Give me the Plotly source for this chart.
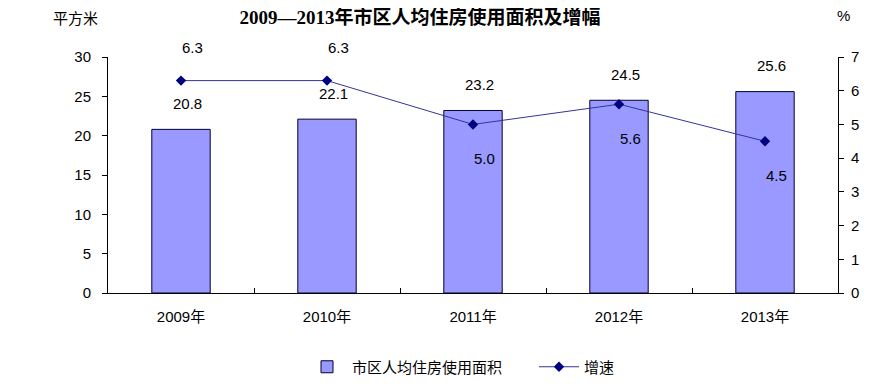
import plotly.graph_objects as go

years = ["2009年", "2010年", "2011年", "2012年", "2013年"]
area = [20.8, 22.1, 23.2, 24.5, 25.6]
growth = [6.3, 6.3, 5.0, 5.6, 4.5]
growth_label_above = [True, True, False, False, False]

FONT = "Arial, Liberation Sans, Noto Sans CJK SC"
CJK = "Noto Sans CJK SC"

# page body has an 8px margin; figure is sized/positioned to compensate
OFF = 8
W, H = 871 - OFF, 387 - OFF

fig = go.Figure()
fig.add_trace(go.Bar(
    x=years, y=area, name="市区人均住房使用面积", width=0.4,
    marker=dict(color="#9999FF", line=dict(color="#000033", width=1)),
    yaxis="y",
))
fig.add_trace(go.Scatter(
    x=years, y=growth, name="增速", mode="lines+markers",
    line=dict(color="#333399", width=1),
    marker=dict(symbol="diamond", size=8, color="#000080"),
    yaxis="y2",
))

annotations = []
for x, v in zip(years, area):
    annotations.append(dict(x=x, y=v, xref="x", yref="y", text=f"{v:.1f}",
                            showarrow=False, yshift=26, xshift=6, xanchor="center",
                            font=dict(size=15, color="#000", family=FONT)))
for x, v, above in zip(years, growth, growth_label_above):
    annotations.append(dict(x=x, y=v, xref="x", yref="y2", text=f"{v:.1f}",
                            showarrow=False, yshift=33 if above else -34, xshift=11,
                            xanchor="center",
                            font=dict(size=15, color="#000", family=FONT)))
annotations += [
    dict(x=-33 / 730, y=(293 - 17) / 236, xref="paper", yref="paper", text="平方米",
         showarrow=False, xanchor="center", yanchor="middle",
         font=dict(size=15, color="#000", family=CJK)),
    dict(x=(843 - 108) / 730, y=(293 - 15) / 236, xref="paper", yref="paper", text="%",
         showarrow=False, xanchor="center", yanchor="middle",
         font=dict(size=15, color="#000", family=FONT)),
]

fig.update_layout(
    width=W, height=H,
    margin=dict(l=108 - OFF, r=33, t=57 - OFF, b=94, autoexpand=False),
    paper_bgcolor="white", plot_bgcolor="white",
    font=dict(family=FONT, size=14, color="#000"),
    title=dict(text="<b>2009—2013年市区人均住房使用面积及增幅</b>",
               x=(420 - OFF) / W, xanchor="center", xref="container",
               y=1 - (17 - OFF) / H, yanchor="middle", yref="container",
               font=dict(size=19, family="Liberation Serif, " + CJK, color="#000")),
    showlegend=True,
    legend=dict(orientation="h", x=(302 - OFF) / W, y=20 / H, xref="container",
                yref="container", xanchor="left", yanchor="middle",
                font=dict(size=15, family=CJK), itemwidth=40,
                entrywidth=177, entrywidthmode="pixels"),
    annotations=annotations,
    xaxis=dict(showline=True, linecolor="#000", linewidth=1, ticks="inside", ticklen=5,
               tickson="boundaries", tickcolor="#000", showgrid=False,
               ticklabelstandoff=10, tickfont=dict(size=15, family=FONT)),
    yaxis=dict(range=[0, 30], dtick=5, showline=True, linecolor="#000", ticks="outside",
               ticklen=5, tickcolor="#000", showgrid=False, zeroline=False,
               ticklabelstandoff=8, tickfont=dict(size=15, family=FONT)),
    yaxis2=dict(range=[0, 7], dtick=1, overlaying="y", side="right", showline=True,
                linecolor="#000", ticks="outside", ticklen=5, tickcolor="#000",
                showgrid=False, zeroline=False, ticklabelstandoff=4,
                tickfont=dict(size=15, family=FONT)),
)

fig.write_html("out.html")
